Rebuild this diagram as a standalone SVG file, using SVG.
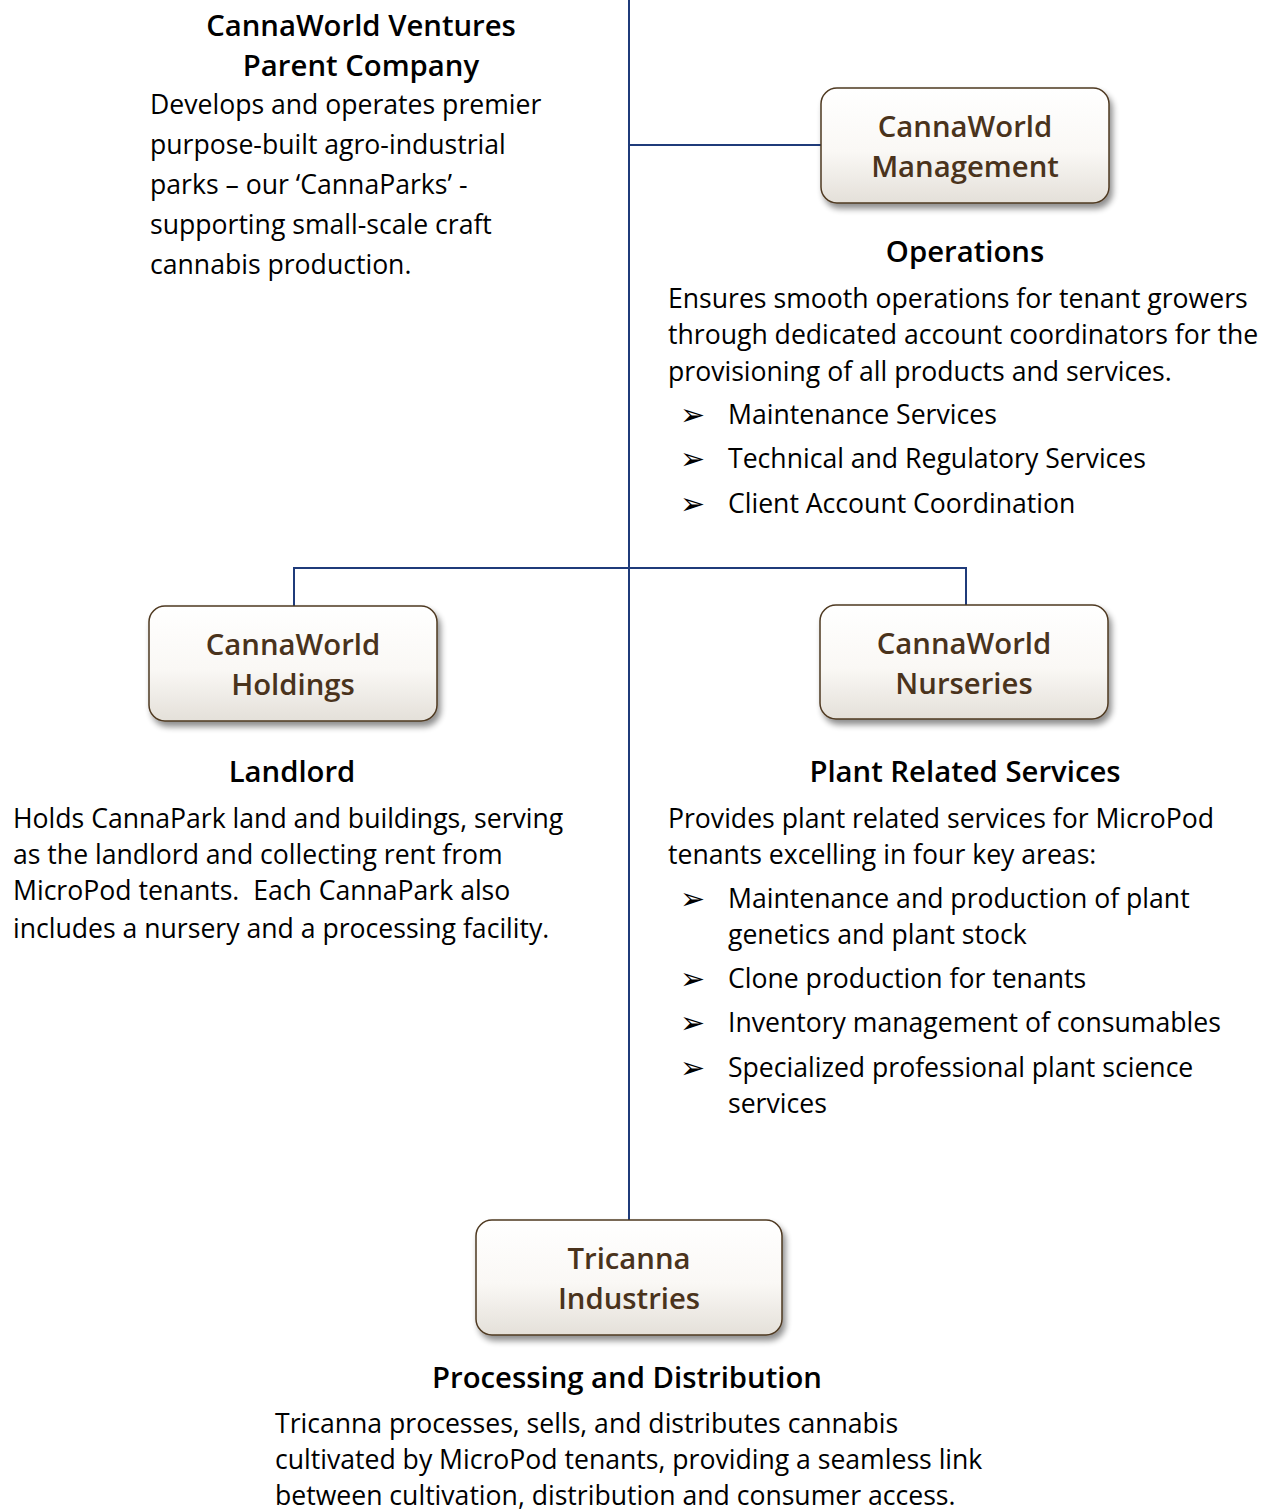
<svg xmlns="http://www.w3.org/2000/svg" width="1263" height="1509" viewBox="0 0 1263 1509">
<defs>
<linearGradient id="boxg" x1="0" y1="0" x2="0" y2="1">
<stop offset="0" stop-color="#ffffff"/>
<stop offset="0.55" stop-color="#faf8f5"/>
<stop offset="1" stop-color="#e4e0d9"/>
</linearGradient>
<filter id="sh" x="-10%" y="-10%" width="130%" height="140%">
<feGaussianBlur in="SourceAlpha" stdDeviation="3"/>
<feOffset dx="3" dy="5" result="b"/>
<feComponentTransfer><feFuncA type="linear" slope="0.45"/></feComponentTransfer>
<feMerge><feMergeNode/><feMergeNode in="SourceGraphic"/></feMerge>
</filter>
</defs>
<style>
.box{fill:url(#boxg);stroke:#4e3920;stroke-width:1.5;filter:url(#sh)}
.bt{font-family:"Open Sans","Noto Sans",sans-serif;font-size:29.3px;font-weight:600;fill:#4a331c;text-anchor:middle}
.h{font-family:"Open Sans","Noto Sans",sans-serif;font-size:29.3px;font-weight:600;fill:#000;text-anchor:middle}
.t{font-family:"Open Sans","Noto Sans",sans-serif;font-size:26.6px;fill:#000}
.bl{font-family:"DejaVu Sans",sans-serif;font-size:30px;fill:#000}
.c{fill:none;stroke:#1f3b7a;stroke-width:2}
</style>
<rect width="1263" height="1509" fill="#fff"/>
<g id="connectors">
<path class="c" d="M629 0V1220"/>
<path class="c" d="M629 145H821"/>
<path class="c" d="M294 606V568H966V605"/>
</g>
<g id="parent">
<text class="h" x="361" y="36">CannaWorld Ventures</text>
<text class="h" x="361" y="76">Parent Company</text>
<text class="t" x="150" y="114">Develops and operates premier</text>
<text class="t" x="150" y="154">purpose-built agro-industrial</text>
<text class="t" x="150" y="194">parks – our ‘CannaParks’ -</text>
<text class="t" x="150" y="234">supporting small-scale craft</text>
<text class="t" x="150" y="274">cannabis production.</text>
</g>
<g id="management">
<rect class="box" x="821" y="88" width="288" height="115" rx="16"/>
<text class="bt" x="965" y="137">CannaWorld</text>
<text class="bt" x="965" y="177">Management</text>
</g>
<g id="operations">
<text class="h" x="965" y="262">Operations</text>
<text class="t" x="668" y="308">Ensures smooth operations for tenant growers</text>
<text class="t" x="668" y="344">through dedicated account coordinators for the</text>
<text class="t" x="668" y="381">provisioning of all products and services.</text>
<text class="bl" x="680" y="425">➢</text>
<text class="t" x="728" y="424">Maintenance Services</text>
<text class="bl" x="680" y="469">➢</text>
<text class="t" x="728" y="468">Technical and Regulatory Services</text>
<text class="bl" x="680" y="514">➢</text>
<text class="t" x="728" y="513">Client Account Coordination</text>
</g>
<g id="holdings">
<rect class="box" x="149" y="606" width="288" height="115" rx="16"/>
<text class="bt" x="293" y="655">CannaWorld</text>
<text class="bt" x="293" y="695">Holdings</text>
</g>
<g id="landlord">
<text class="h" x="292" y="782">Landlord</text>
<text class="t" x="13" y="828">Holds CannaPark land and buildings, serving</text>
<text class="t" x="13" y="864">as the landlord and collecting rent from</text>
<text class="t" x="13" y="900" xml:space="preserve">MicroPod tenants.  Each CannaPark also</text>
<text class="t" x="13" y="938">includes a nursery and a processing facility.</text>
</g>
<g id="nurseries">
<rect class="box" x="820" y="605" width="288" height="114" rx="16"/>
<text class="bt" x="964" y="654">CannaWorld</text>
<text class="bt" x="964" y="694">Nurseries</text>
</g>
<g id="plant">
<text class="h" x="965" y="782">Plant Related Services</text>
<text class="t" x="668" y="828">Provides plant related services for MicroPod</text>
<text class="t" x="668" y="864">tenants excelling in four key areas:</text>
<text class="bl" x="680" y="909">➢</text>
<text class="t" x="728" y="908">Maintenance and production of plant</text>
<text class="t" x="728" y="944">genetics and plant stock</text>
<text class="bl" x="680" y="989">➢</text>
<text class="t" x="728" y="988">Clone production for tenants</text>
<text class="bl" x="680" y="1033">➢</text>
<text class="t" x="728" y="1032">Inventory management of consumables</text>
<text class="bl" x="680" y="1078">➢</text>
<text class="t" x="728" y="1077">Specialized professional plant science</text>
<text class="t" x="728" y="1113">services</text>
</g>
<g id="tricanna">
<rect class="box" x="476" y="1220" width="306" height="115" rx="16"/>
<text class="bt" x="629" y="1269">Tricanna</text>
<text class="bt" x="629" y="1309">Industries</text>
</g>
<g id="processing">
<text class="h" x="627" y="1388">Processing and Distribution</text>
<text class="t" x="275" y="1433">Tricanna processes, sells, and distributes cannabis</text>
<text class="t" x="275" y="1469">cultivated by MicroPod tenants, providing a seamless link</text>
<text class="t" x="275" y="1505">between cultivation, distribution and consumer access.</text>
</g>
</svg>
